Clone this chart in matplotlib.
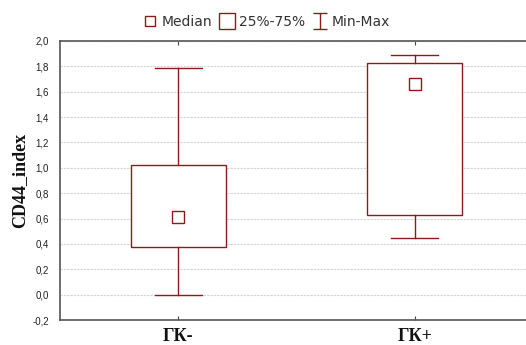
import matplotlib
matplotlib.use('Agg')
import matplotlib.pyplot as plt
from matplotlib.lines import Line2D
from matplotlib.path import Path
import numpy as np

# данные
groups = ['ГК-', 'ГК+']
medians = [0.614, 1.658]
q1 = [0.378, 0.628]
q3 = [1.025, 1.829]
mins = [0.0, 0.444]
maxs = [1.785, 1.89]
yticks = np.arange(-0.2, 2.01, 0.2)

col = '#8b1a1a'

fig = plt.figure(figsize=(5.26, 3.45), dpi=100)
ax = fig.add_axes([60 / 526, 25 / 345, 473 / 526, 279 / 345])

stats = []
for i in range(len(groups)):
    stats.append({'med': medians[i], 'mean': medians[i], 'q1': q1[i], 'q3': q3[i],
                  'whislo': mins[i], 'whishi': maxs[i], 'fliers': [], 'label': groups[i]})

ax.bxp(stats, positions=[1, 2], widths=0.4, capwidths=0.2, patch_artist=True,
       showmeans=True, showfliers=False,
       boxprops=dict(facecolor='white', edgecolor=col, linewidth=1.0),
       whiskerprops=dict(color=col, linewidth=1.0),
       capprops=dict(color=col, linewidth=1.0),
       medianprops=dict(visible=False),
       meanprops=dict(marker='s', markersize=8, markerfacecolor='none',
                      markeredgecolor=col, markeredgewidth=1.0))

ax.set_xlim(0.5, 2.5)
ax.set_ylim(-0.2, 2.0)
ax.set_yticks(yticks)
ax.set_yticklabels([('%.1f' % v).replace('.', ',') for v in yticks],
                   fontsize=7, family='Liberation Sans', color='#222222')
ax.set_xticks([1, 2])
ax.set_xticklabels(groups, fontsize=13, family='Liberation Serif', fontweight='bold',
                   color='#111111')
ax.tick_params(axis='y', length=0, pad=8)
ax.tick_params(axis='x', direction='in', length=3, top=True, pad=6, color='#444444')
ax.set_ylabel('CD44_index', fontsize=13, family='Liberation Serif', fontweight='bold',
              labelpad=3, color='#111111')

ax.yaxis.grid(True, linestyle=(0, (2, 1)), color='#d4d4d4', linewidth=0.8)
ax.set_axisbelow(True)
ax.spines['right'].set_visible(False)
for s in ['left', 'top', 'bottom']:
    ax.spines[s].set_color('#555555')
    ax.spines[s].set_linewidth(1.2)

# легенда
ibar = Path([(-0.8, -1), (0.8, -1), (0, -1), (0, 1), (-0.8, 1), (0.8, 1)],
            [Path.MOVETO, Path.LINETO, Path.MOVETO, Path.LINETO, Path.MOVETO, Path.LINETO])
h1 = Line2D([], [], marker='s', linestyle='none', markersize=6.5, markerfacecolor='none',
            markeredgecolor=col, markeredgewidth=1.0)
h2 = Line2D([], [], marker='s', linestyle='none', markersize=11, markerfacecolor='none',
            markeredgecolor=col, markeredgewidth=1.0)
h3 = Line2D([], [], marker=ibar, linestyle='none', markersize=12, markerfacecolor='none',
            markeredgecolor=col, markeredgewidth=1.0)
fig.legend([h1, h2, h3], ['Median', '25%-75%', 'Min-Max'], loc='center',
           bbox_to_anchor=(267 / 526, 1 - 22 / 345), ncol=3, frameon=False,
           prop={'family': 'DejaVu Sans', 'size': 10}, labelcolor='#333333',
           handlelength=0.9, handletextpad=0.4, columnspacing=0.6, borderpad=0)

fig.savefig('out.png', dpi=100)
